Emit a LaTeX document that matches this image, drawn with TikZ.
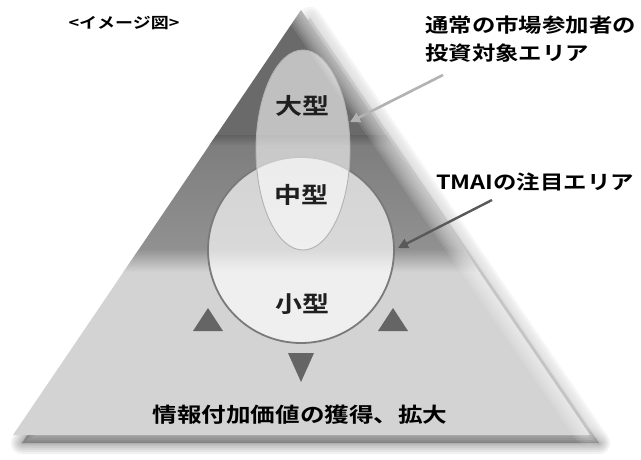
\documentclass[tikz,border=0pt]{standalone}
\usepackage{fontspec}
\newfontfamily\jp[FakeStretch=1.2]{Noto Sans CJK JP Bold}
\usetikzlibrary{arrows.meta,shapes.geometric}
\definecolor{bandtop}{HTML}{6A6A6A}
\definecolor{bandmidA}{HTML}{7C7C7C}
\definecolor{bandmidB}{HTML}{919191}
\definecolor{bandlow}{HTML}{D3D3D3}
\definecolor{marker}{HTML}{656565}
\tikzset{
  lbl/.style={font=\jp\fontsize{19.5}{28}\selectfont, text=black, inner sep=0pt},
  sizelbl/.style={font=\jp\fontsize{22.5}{24}\selectfont, text=black!88, inner sep=0pt},
  marktri/.style={fill=marker, draw=none},
  arrowlight/.style={draw=black!30, line width=2.6pt, -{Triangle[length=10pt,width=10pt]}},
  arrowdark/.style={draw=black!65, line width=2.4pt, -{Triangle[length=10pt,width=10pt]}},
}
\begin{document}
\begin{tikzpicture}[x=1pt,y=-1pt]
\useasboundingbox (0,0) rectangle (641,459);
\fill[white] (0,0) rectangle (641,459);
\coordinate (A) at (301,10);
\coordinate (BL) at (13,435);
\coordinate (BR) at (590,435);
% soft shadow
\foreach \w in {22,18,14,10,6,3}{
  \draw[black, opacity=0.05, line width=\w pt, line join=round, fill=black, fill opacity=0.05]
    ([shift={(9,8)}]A) -- ([shift={(9,8)}]BL) -- ([shift={(9,8)}]BR) -- cycle;
}
% bands
\begin{scope}
  \clip (A) -- (BL) -- (BR) -- cycle;
  \fill[bandtop] (0,0) rectangle (641,135);
  \shade[top color=bandmidA, bottom color=bandmidB] (0,135) rectangle (641,250);
  \fill[bandlow] (0,250) rectangle (641,440);
  \shade[top color=black!42, bottom color=bandlow] (0,250) rectangle (641,272);
  \shade[top color=black!62, bottom color=bandmidA] (0,135) rectangle (641,145);
\end{scope}
% soft white glow along the right edge
\foreach \w in {40,35,30,25,20,15,10,5}{
  \draw[white, opacity=0.1, line width=\w pt, line cap=round] ([shift={(4,0)}]A) -- ([shift={(0,-10)}]BR);
}
% TMAI circle
\node[circle, minimum size=186pt, inner sep=0pt, draw=black!52, line width=1.8pt,
      fill=white, fill opacity=0.66] (circ) at (301,250) {};
% ordinary ellipse
\node[ellipse, minimum width=94pt, minimum height=200pt, inner sep=0pt, draw=black!30, line width=0.9pt,
      fill=white, fill opacity=0.58] (ell) at (303,150) {};
% size labels
\node[sizelbl] (large) at (302,106) {大型};
\node[sizelbl] (mid) at (301,195) {中型};
\node[sizelbl] (small) at (302,304) {小型};
% marker triangles
\fill[marktri] (208,308) -- (193,331) -- (223,331) -- cycle;
\fill[marktri] (393,308) -- (378,331) -- (408,331) -- cycle;
\fill[marktri] (288,353) -- (314,353) -- (301,382) -- cycle;
% texts
\node[font=\jp\fontsize{15}{18}\selectfont, inner sep=0pt] (title) at (124,23) {<イメージ図>};
\node[lbl, anchor=west, align=left] (lab1) at (425,39) {通常の市場参加者の\\投資対象エリア};
\node[lbl, anchor=west] (lab2) at (436,182) {TMAIの注目エリア};
\node[font=\jp\fontsize{20.5}{24}\selectfont, inner sep=0pt] (bottom) at (300,415) {情報付加価値の獲得、拡大};
% arrows
\coordinate (s1) at (443,75);
\coordinate (e1) at (350,122);
\coordinate (s2) at (492,200);
\coordinate (e2) at (398,248);
\draw[arrowlight] (s1) -- (e1);
\draw[arrowdark] (s2) -- (e2);
\end{tikzpicture}
\end{document}
